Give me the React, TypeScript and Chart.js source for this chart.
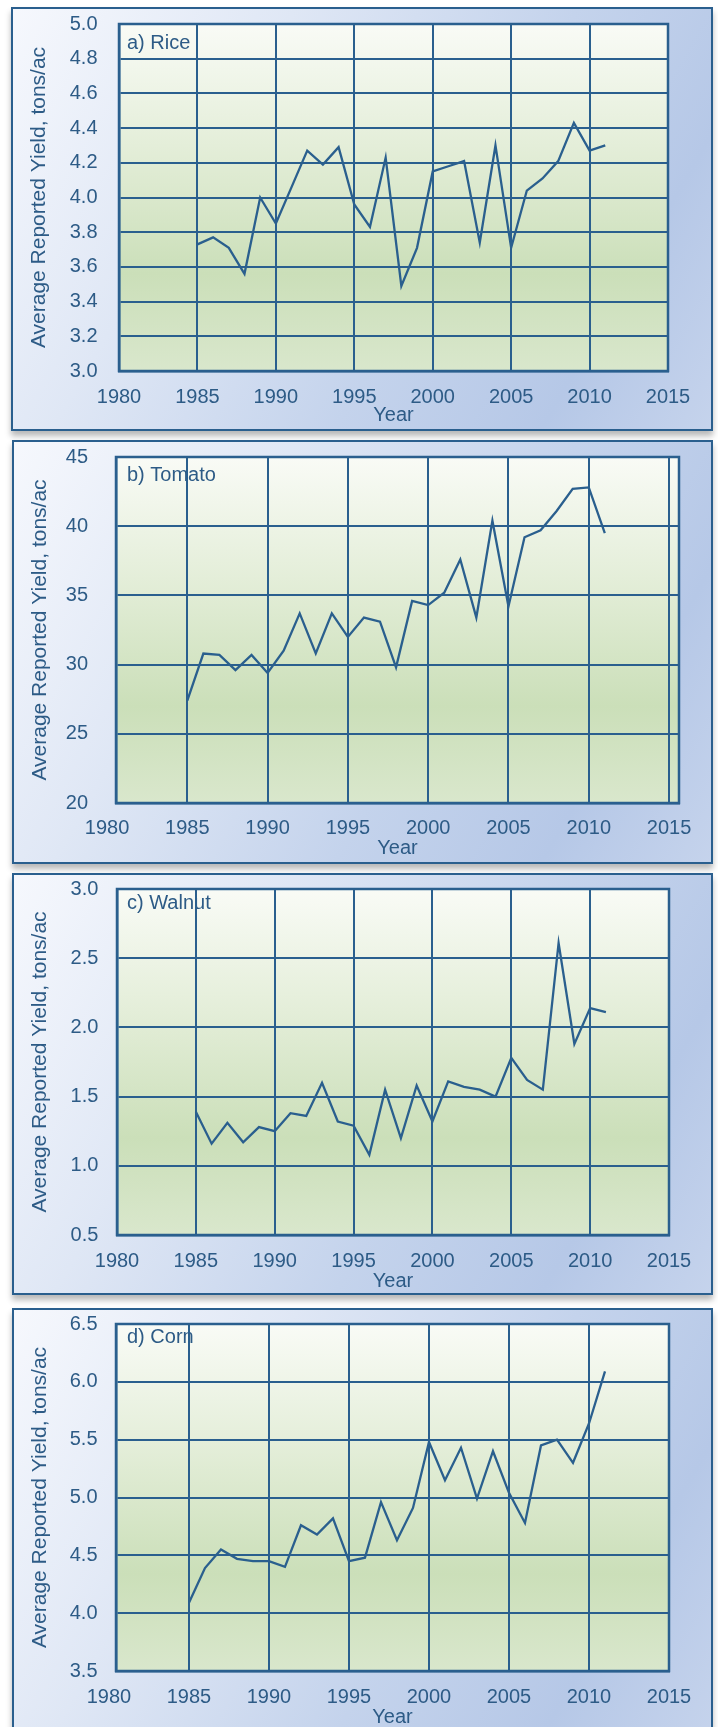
import React, { useEffect, useRef } from "react";
import { Chart, registerables } from "chart.js";
Chart.register(...registerables);

// ---------- DATA ----------
const YEARS = [1985, 1986, 1987, 1988, 1989, 1990, 1991, 1992, 1993, 1994, 1995, 1996, 1997, 1998, 1999, 2000, 2001, 2002, 2003, 2004, 2005, 2006, 2007, 2008, 2009, 2010, 2011];
const RICE = [3.73, 3.77, 3.71, 3.56, 4.0, 3.85, 4.06, 4.27, 4.19, 4.29, 3.96, 3.83, 4.23, 3.49, 3.71, 4.15, 4.18, 4.21, 3.74, 4.3, 3.71, 4.04, 4.11, 4.21, 4.43, 4.27, 4.3];
const TOMATO = [27.4, 30.8, 30.7, 29.6, 30.7, 29.4, 31.0, 33.7, 30.8, 33.7, 32.0, 33.4, 33.1, 29.8, 34.6, 34.3, 35.2, 37.6, 33.4, 40.4, 34.2, 39.2, 39.7, 41.1, 42.7, 42.8, 39.5];
const WALNUT = [1.39, 1.16, 1.31, 1.17, 1.28, 1.25, 1.38, 1.36, 1.6, 1.32, 1.29, 1.08, 1.55, 1.2, 1.58, 1.32, 1.61, 1.57, 1.55, 1.5, 1.78, 1.62, 1.55, 2.61, 1.88, 2.14, 2.11];
const CORN = [4.09, 4.39, 4.55, 4.47, 4.45, 4.45, 4.4, 4.76, 4.68, 4.82, 4.45, 4.48, 4.96, 4.63, 4.91, 5.48, 5.15, 5.43, 4.99, 5.4, 5.04, 4.78, 5.45, 5.5, 5.3, 5.64, 6.09];

const X_TICKS = [1980, 1985, 1990, 1995, 2000, 2005, 2010, 2015];
const RICE_TICKS = [3.0, 3.2, 3.4, 3.6, 3.8, 4.0, 4.2, 4.4, 4.6, 4.8, 5.0];
const TOMATO_TICKS = [20, 25, 30, 35, 40, 45];
const WALNUT_TICKS = [0.5, 1.0, 1.5, 2.0, 2.5, 3.0];
const CORN_TICKS = [3.5, 4.0, 4.5, 5.0, 5.5, 6.0, 6.5];

const PANEL_LABELS = ["a) Rice", "b) Tomato", "c) Walnut", "d) Corn"];
const X_TITLE = "Year";
const Y_TITLE = "Average Reported Yield, tons/ac";

// ---------- STYLE ----------
const LINE = "#2a5f8e";
const TEXT = "#2d5b86";
const FONT = "Arial, 'Liberation Sans', sans-serif";
const TICK_SIZE = 20;
const XTITLE_SIZE = 20;
const YTITLE_SIZE = 21;
const LABEL_SIZE = 20;
const B = 2;

type Cfg = {
  label: string;
  values: number[];
  yTicks: number[];
  dec: number;
  xMin: number;
  xMax: number;
  box: { x: number; y: number; w: number; h: number };
  area: { l: number; t: number; r: number; b: number };
  xLabelCy: number;
  yearCy: number;
  yTitleCx: number;
  yLabelRight: number;
  labelX: number;
  labelCy: number;
};

const PANELS: Cfg[] = [
  {
    label: PANEL_LABELS[0], values: RICE, yTicks: RICE_TICKS, dec: 1, xMin: 1980, xMax: 2015,
    box: { x: 11, y: 7, w: 702, h: 424 },
    area: { l: 119, t: 24, r: 668, b: 371 },
    xLabelCy: 397, yearCy: 415, yTitleCx: 39, yLabelRight: 97.5, labelX: 127, labelCy: 43,
  },
  {
    label: PANEL_LABELS[1], values: TOMATO, yTicks: TOMATO_TICKS, dec: 0, xMin: 1980.56, xMax: 2015.62,
    box: { x: 12, y: 440, w: 701, h: 424 },
    area: { l: 116, t: 457, r: 679, b: 803 },
    xLabelCy: 828, yearCy: 848, yTitleCx: 40, yLabelRight: 88, labelX: 127, labelCy: 475,
  },
  {
    label: PANEL_LABELS[2], values: WALNUT, yTicks: WALNUT_TICKS, dec: 1, xMin: 1980, xMax: 2015,
    box: { x: 12, y: 873, w: 701, h: 422 },
    area: { l: 117, t: 889, r: 669, b: 1235 },
    xLabelCy: 1261, yearCy: 1281, yTitleCx: 40, yLabelRight: 98.4, labelX: 127, labelCy: 903,
  },
  {
    label: PANEL_LABELS[3], values: CORN, yTicks: CORN_TICKS, dec: 1, xMin: 1980.44, xMax: 2015,
    box: { x: 12, y: 1308, w: 701, h: 432 },
    area: { l: 116, t: 1324, r: 669, b: 1671 },
    xLabelCy: 1697, yearCy: 1717, yTitleCx: 40, yLabelRight: 97.5, labelX: 127, labelCy: 1337,
  },
];

const bgPlugin = {
  id: "panelBg",
  beforeDraw(chart: any, _args: any, opts: any) {
    const { ctx, chartArea: a } = chart;
    ctx.save();
    const g = ctx.createLinearGradient(0, a.top, 0, a.bottom);
    g.addColorStop(0, "#f9fbf6");
    g.addColorStop(0.35, "#e4eed9");
    g.addColorStop(0.72, "#cbdfb9");
    g.addColorStop(1, "#d9e7cc");
    ctx.fillStyle = g;
    ctx.fillRect(a.left, a.top, a.right - a.left, a.bottom - a.top);
    ctx.font = `${LABEL_SIZE}px ${FONT}`;
    ctx.fillStyle = TEXT;
    ctx.textBaseline = "middle";
    ctx.textAlign = "left";
    ctx.fillText(opts.text, opts.x, opts.y);
    ctx.restore();
  },
  afterDraw(chart: any) {
    const { ctx, chartArea: a } = chart;
    ctx.save();
    ctx.strokeStyle = LINE;
    ctx.lineWidth = 2.5;
    ctx.strokeRect(a.left, a.top, a.right - a.left, a.bottom - a.top);
    ctx.restore();
  },
};

function Panel({ cfg }: { cfg: Cfg }) {
  const ref = useRef<HTMLCanvasElement>(null);
  const ox = cfg.box.x + B;
  const oy = cfg.box.y + B;
  const cw = cfg.box.w - 2 * B;
  const ch = cfg.box.h - 2 * B;

  useEffect(() => {
    const L = cfg.area.l - ox;
    const T = cfg.area.t - oy;
    const R = cfg.area.r - ox;
    const Bt = cfg.area.b - oy;
    const yTitleLh = YTITLE_SIZE * 1.2;
    const xTitleLh = XTITLE_SIZE * 1.2;
    const tickLh = TICK_SIZE * 1.2;
    const padLeft = cfg.yTitleCx - ox - yTitleLh / 2;
    const yWidth = L - padLeft;
    const scaleBottom = cfg.yearCy - oy + xTitleLh / 2;
    const padBottom = ch - scaleBottom;
    const xHeight = scaleBottom - Bt;
    const yTickPad = L - (cfg.yLabelRight - ox);
    const xTickPad = cfg.xLabelCy - oy - Bt - tickLh / 2;

    const chart = new Chart(ref.current as HTMLCanvasElement, {
      type: "line",
      data: {
        datasets: [
          {
            data: YEARS.map((yr, i) => ({ x: yr, y: cfg.values[i] })),
            borderColor: LINE,
            borderWidth: 2.3,
            pointRadius: 0,
            tension: 0,
            fill: false,
          },
        ],
      },
      options: {
        animation: false,
        responsive: false,
        maintainAspectRatio: false,
        layout: { padding: { left: padLeft, top: T, right: cw - R, bottom: padBottom } },
        plugins: {
          legend: { display: false },
          tooltip: { enabled: false },
          panelBg: { text: cfg.label, x: cfg.labelX - ox, y: cfg.labelCy - oy },
        } as any,
        scales: {
          x: {
            type: "linear",
            min: cfg.xMin,
            max: cfg.xMax,
            afterBuildTicks: (s: any) => {
              s.ticks = X_TICKS.map((v) => ({ value: v }));
            },
            afterFit: (s: any) => {
              s.height = xHeight;
              s.paddingLeft = 0;
              s.paddingRight = 0;
            },
            ticks: {
              padding: xTickPad,
              color: TEXT,
              font: { family: FONT, size: TICK_SIZE },
              maxRotation: 0,
              autoSkip: false,
              callback: (v: any) => String(v),
            },
            grid: {
              color: (c: any) =>
                c.tick && (c.tick.value < cfg.xMin || c.tick.value > cfg.xMax) ? "rgba(0,0,0,0)" : LINE,
              lineWidth: 2,
              drawTicks: false,
            },
            border: { color: LINE, width: 2.5 },
            title: {
              display: true,
              text: X_TITLE,
              color: TEXT,
              font: { family: FONT, size: XTITLE_SIZE },
              padding: 0,
            },
          },
          y: {
            type: "linear",
            min: cfg.yTicks[0],
            max: cfg.yTicks[cfg.yTicks.length - 1],
            afterBuildTicks: (s: any) => {
              s.ticks = cfg.yTicks.map((v) => ({ value: v }));
            },
            afterFit: (s: any) => {
              s.width = yWidth;
              s.paddingTop = 0;
              s.paddingBottom = 0;
            },
            ticks: {
              padding: yTickPad,
              color: TEXT,
              font: { family: FONT, size: TICK_SIZE },
              autoSkip: false,
              callback: (v: any) => Number(v).toFixed(cfg.dec),
            },
            grid: { color: LINE, lineWidth: 2, drawTicks: false },
            border: { color: LINE, width: 2.5 },
            title: {
              display: true,
              text: Y_TITLE,
              color: TEXT,
              font: { family: FONT, size: YTITLE_SIZE },
              padding: 0,
            },
          },
        },
      } as any,
      plugins: [bgPlugin as any],
    });
    return () => chart.destroy();
  }, []);

  return (
    <div
      style={{
        position: "absolute",
        left: cfg.box.x,
        top: cfg.box.y,
        width: cfg.box.w,
        height: cfg.box.h,
        boxSizing: "border-box",
        border: `${B}px solid ${LINE}`,
        background:
          "linear-gradient(120deg, #f6f8fd 0%, #dfe7f5 30%, #c4d3ec 60%, #b6c8e7 82%, #c5d3ec 100%)",
        boxShadow: "0 5px 6px rgba(0,0,0,0.28)",
      }}
    >
      <canvas ref={ref} width={cw} height={ch} style={{ display: "block", width: cw, height: ch }} />
    </div>
  );
}

export default function App() {
  return (
    <div
      style={{
        position: "absolute",
        left: 0,
        top: 0,
        width: 718,
        height: 1727,
        overflow: "hidden",
        background: "#ffffff",
      }}
    >
      {PANELS.map((p) => (
        <Panel key={p.label} cfg={p} />
      ))}
    </div>
  );
}
